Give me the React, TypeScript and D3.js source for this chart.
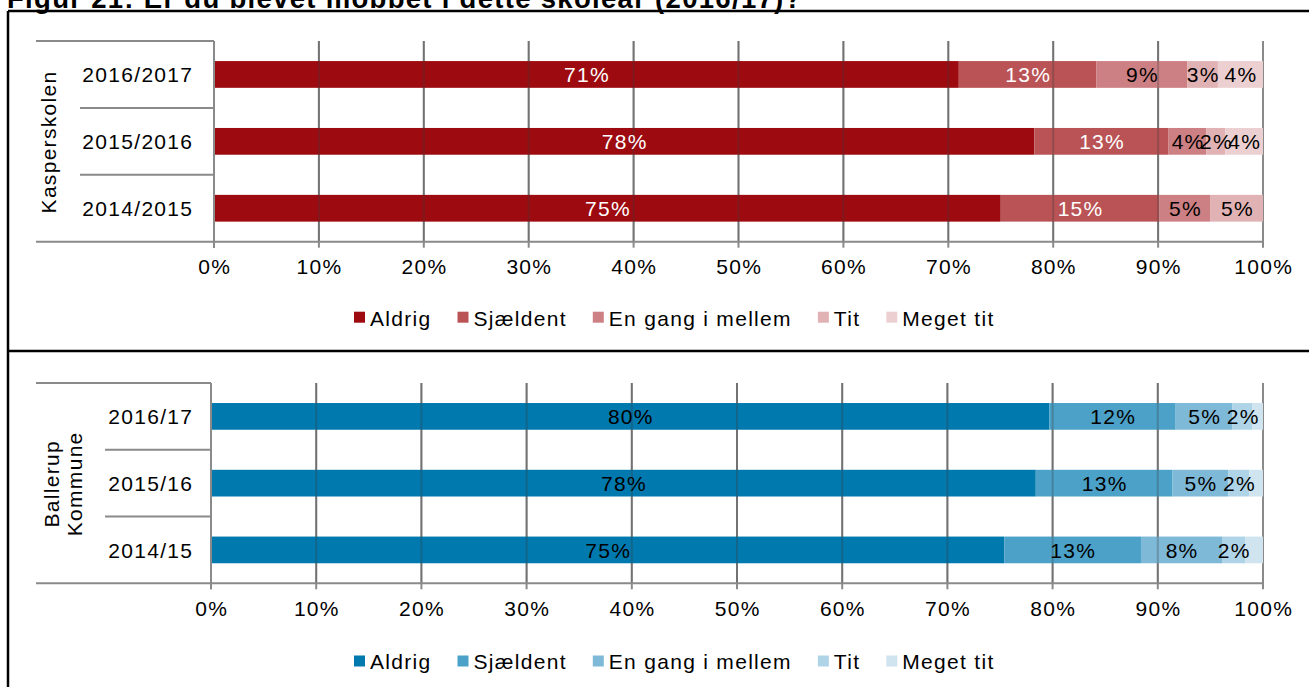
import React, { useEffect, useRef } from "react";
import * as d3 from "d3";

const W = 1309;
const H = 687;
const FONT = '"Liberation Sans", Arial, Helvetica, sans-serif';
const FS = 21;
const LS = 1.3;

const titleText = "Figur 21: Er du blevet mobbet i dette skoleår (2016/17)?";
const seriesNames = ["Aldrig", "Sjældent", "En gang i mellem", "Tit", "Meget tit"];

// Kasperskolen
const schoolYears = ["2016/2017", "2015/2016", "2014/2015"];
const schoolAldrig = [71.0, 78.2, 75.0];
const schoolSjaeldent = [13.1, 12.8, 15.1];
const schoolEnGang = [8.7, 3.6, 4.9];
const schoolTit = [2.9, 1.8, 5.0];
const schoolMegetTit = [4.3, 3.6, 0];

// Ballerup Kommune
const muniYears = ["2016/17", "2015/16", "2014/15"];
const muniAldrig = [79.7, 78.4, 75.4];
const muniSjaeldent = [12.0, 13.0, 13.0];
const muniEnGang = [5.4, 5.3, 7.7];
const muniTit = [1.9, 2.0, 2.2];
const muniMegetTit = [1.0, 1.3, 1.7];

const xTicks = [0, 10, 20, 30, 40, 50, 60, 70, 80, 90, 100];

const redColors = ["#9d0b10", "#b95356", "#cd8084", "#e0b2b4", "#ecd0d1"];
const blueColors = ["#0079ae", "#4ba1c8", "#7eb9d7", "#b0d4e7", "#cfe4ef"];
const redLabelColors = ["#ffffff", "#ffffff", "#000000", "#000000", "#000000"];
const blueLabelColors = ["#000000", "#000000", "#000000", "#000000", "#000000"];
const schoolHiddenLabels: string[] = [];
const muniHiddenLabels = ["Meget tit"];

type Panel = {
  years: string[];
  values: number[][];
  colors: string[];
  labelColors: string[];
  hidden: string[];
  groupLabel: string[];
  groupBaselines: number[];
  x0: number;
  x1: number;
  yTop: number;
  yBottom: number;
  catLineX: number;
  legendY: number;
};

const panels: Panel[] = [
  {
    years: schoolYears,
    values: [schoolAldrig, schoolSjaeldent, schoolEnGang, schoolTit, schoolMegetTit],
    colors: redColors,
    labelColors: redLabelColors,
    hidden: schoolHiddenLabels,
    groupLabel: ["Kasperskolen"],
    groupBaselines: [55.5],
    x0: 214,
    x1: 1263,
    yTop: 41,
    yBottom: 241.7,
    catLineX: 80,
    legendY: 317.2,
  },
  {
    years: muniYears,
    values: [muniAldrig, muniSjaeldent, muniEnGang, muniTit, muniMegetTit],
    colors: blueColors,
    labelColors: blueLabelColors,
    hidden: muniHiddenLabels,
    groupLabel: ["Ballerup", "Kommune"],
    groupBaselines: [58.5, 82],
    x0: 211,
    x1: 1263,
    yTop: 383,
    yBottom: 583.3,
    catLineX: 105,
    legendY: 661,
  },
];

function drawPanel(root: d3.Selection<SVGGElement, unknown, null, undefined>, p: Panel) {
  const g = root.append("g");
  const x = d3.scaleLinear().domain([0, 100]).range([p.x0, p.x1]);
  const y = d3.scaleBand<string>().domain(p.years).range([p.yTop, p.yBottom]).paddingInner(0.6).paddingOuter(0.3);
  const step = y.step();
  const grid = "#8a8a8a";

  g.append("g")
    .selectAll("line")
    .data(xTicks)
    .join("line")
    .attr("x1", (d) => x(d))
    .attr("x2", (d) => x(d))
    .attr("y1", p.yTop)
    .attr("y2", p.yBottom + 6)
    .attr("stroke", grid)
    .attr("stroke-width", 2);

  const rows = p.years.map((yr, i) => {
    const o: any = { year: yr };
    seriesNames.forEach((s, k) => (o[s] = p.values[k][i]));
    return o;
  });
  const stacked = d3.stack<any>().keys(seriesNames)(rows);

  const segG = g.append("g");
  stacked.forEach((layer, k) => {
    segG
      .append("g")
      .attr("fill", p.colors[k])
      .selectAll("rect")
      .data(layer)
      .join("rect")
      .attr("x", (d) => x(d[0]))
      .attr("width", (d) => Math.max(0, x(d[1]) - x(d[0])))
      .attr("y", (d) => y(d.data.year)!)
      .attr("height", y.bandwidth());
  });

  g.append("g")
    .selectAll("line")
    .data(xTicks.slice(1, -1))
    .join("line")
    .attr("x1", (d) => x(d))
    .attr("x2", (d) => x(d))
    .attr("y1", p.yTop)
    .attr("y2", p.yBottom)
    .attr("stroke", "#3a3a3a")
    .attr("stroke-opacity", 0.3)
    .attr("stroke-width", 2);

  stacked.forEach((layer, k) => {
    if (p.hidden.includes(seriesNames[k])) return;
    g.append("g")
      .selectAll("text")
      .data(layer.filter((d) => d[1] - d[0] > 0.5))
      .join("text")
      .attr("x", (d) => (x(d[0]) + x(d[1])) / 2 + LS / 2)
      .attr("y", (d) => y(d.data.year)! + y.bandwidth() / 2 + 7.6)
      .attr("text-anchor", "middle")
      .attr("fill", p.labelColors[k])
      .style("font-family", FONT)
      .style("font-size", FS + "px")
      .style("letter-spacing", LS + "px")
      .text((d) => Math.round(d[1] - d[0]) + "%");
  });

  const axis = g.append("g").attr("stroke", grid).attr("stroke-width", 2);
  axis.append("line").attr("x1", 36).attr("x2", p.x1).attr("y1", p.yBottom).attr("y2", p.yBottom);
  axis.append("line").attr("x1", 36).attr("x2", p.x0).attr("y1", p.yTop).attr("y2", p.yTop);
  axis
    .selectAll("line.sep")
    .data(p.years.slice(1))
    .join("line")
    .attr("class", "sep")
    .attr("x1", p.catLineX)
    .attr("x2", p.x0)
    .attr("y1", (_, i) => p.yTop + step * (i + 1))
    .attr("y2", (_, i) => p.yTop + step * (i + 1));
  axis.append("line").attr("x1", p.x0).attr("x2", p.x0).attr("y1", p.yTop).attr("y2", p.yBottom + 6);

  g.append("g")
    .selectAll("text")
    .data(xTicks)
    .join("text")
    .attr("x", (d) => x(d) + LS / 2)
    .attr("y", p.yBottom + 32.6)
    .attr("text-anchor", "middle")
    .style("font-family", FONT)
    .style("font-size", FS + "px")
    .style("letter-spacing", LS + "px")
    .attr("fill", "#000")
    .text((d) => d + "%");

  g.append("g")
    .selectAll("text")
    .data(p.years)
    .join("text")
    .attr("x", 193.3)
    .attr("y", (d) => y(d)! + y.bandwidth() / 2 + 7.6)
    .attr("text-anchor", "end")
    .style("font-family", FONT)
    .style("font-size", FS + "px")
    .style("letter-spacing", LS + "px")
    .attr("fill", "#000")
    .text((d) => d);

  const cy = (p.yTop + p.yBottom) / 2;
  p.groupLabel.forEach((t, i) => {
    g.append("text")
      .attr("transform", `translate(${p.groupBaselines[i]},${cy + LS / 2}) rotate(-90)`)
      .attr("text-anchor", "middle")
      .style("font-family", FONT)
      .style("font-size", FS + "px")
      .style("letter-spacing", LS + "px")
      .attr("fill", "#000")
      .text(t);
  });

  const lg = g.append("g");
  let cx = 354;
  seriesNames.forEach((s, k) => {
    lg.append("rect")
      .attr("x", cx)
      .attr("y", p.legendY - 5.5)
      .attr("width", 11)
      .attr("height", 11)
      .attr("fill", p.colors[k]);
    const t = lg
      .append("text")
      .attr("x", cx + 16)
      .attr("y", p.legendY + 8.4)
      .style("font-family", FONT)
      .style("font-size", FS + "px")
      .style("letter-spacing", LS + "px")
      .attr("fill", "#000")
      .text(s);
    const w = (t.node() as SVGTextElement).getComputedTextLength();
    cx = cx + 16 + w + 26;
  });
}

export default function App() {
  const ref = useRef<SVGSVGElement>(null);
  useEffect(() => {
    const svg = d3.select(ref.current!);
    svg.selectAll("*").remove();
    const root = svg.append("g");
    root
      .append("rect")
      .attr("x", 0)
      .attr("y", 0)
      .attr("width", W)
      .attr("height", H)
      .attr("fill", "#fff");

    root
      .append("text")
      .attr("x", 7)
      .attr("y", 8)
      .style("font-family", FONT)
      .style("font-size", "27.5px")
      .style("font-weight", "bold")
      .style("letter-spacing", LS + "px")
      .attr("fill", "#000")
      .text(titleText);

    panels.forEach((p) => drawPanel(root, p));

    const frame = root.append("g").attr("stroke", "#000").attr("stroke-width", 2.5);
    frame.append("line").attr("x1", 8).attr("x2", 8).attr("y1", 11).attr("y2", H);
    frame.append("line").attr("x1", 8).attr("x2", W).attr("y1", 11).attr("y2", 11);
    frame.append("line").attr("x1", 8).attr("x2", W).attr("y1", 351).attr("y2", 351);
  }, []);

  return (
    <svg
      ref={ref}
      width={W}
      height={H}
      style={{ position: "absolute", left: 0, top: 0, display: "block" }}
    />
  );
}
